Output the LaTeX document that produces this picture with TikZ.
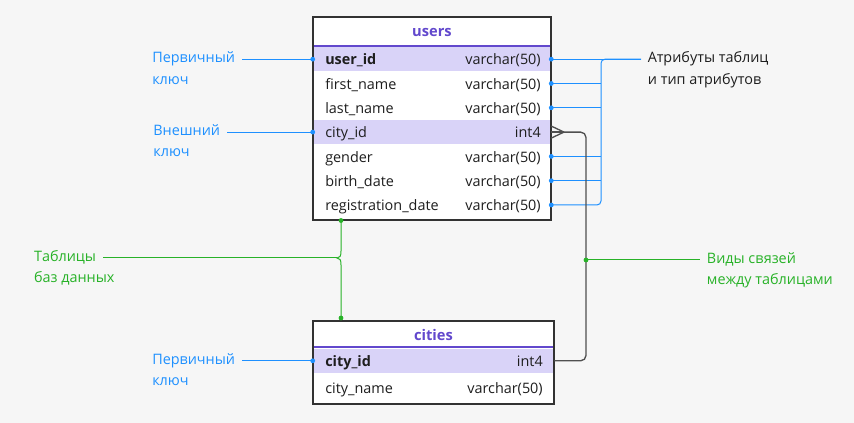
\documentclass[tikz,border=0pt]{standalone}
\usepackage{fontspec}
\setmainfont{Open Sans}
\usetikzlibrary{positioning}

\definecolor{bgcol}{RGB}{246,246,246}
\definecolor{keyfill}{RGB}{217,211,248}
\definecolor{hdrcol}{RGB}{98,72,205}
\definecolor{tblline}{RGB}{50,50,50}
\definecolor{txtcol}{RGB}{30,30,30}
\definecolor{blucol}{RGB}{30,144,255}
\definecolor{grncol}{RGB}{40,178,40}
\definecolor{relcol}{RGB}{80,80,80}

\tikzset{
  row/.style={minimum width=178.5pt, minimum height=18.2pt, inner sep=0pt},
  keyrow/.style={row, fill=keyfill},
  fld/.style={anchor=west, inner sep=0pt, text height=10.3pt, text depth=1.8pt, text=txtcol, font=\fontsize{10.8}{12}\selectfont},
  typ/.style={fld, anchor=east},
  hdr/.style={inner sep=0pt, text height=9.5pt, text depth=2pt, text=hdrcol, font=\fontsize{11}{12}\selectfont\bfseries},
  lab/.style={inner xsep=5pt, inner ysep=0pt, text height=8pt, text depth=3pt, font=\fontsize{10.8}{12}\selectfont},
  lab2/.style={lab, below=4.75pt of #1, anchor=north west},
  bl/.style={color=blucol, line width=0.75pt},
  gr/.style={color=grncol, line width=0.75pt},
  rel/.style={color=relcol, line width=1pt},
  tbl/.style={draw=tblline, line width=0.9pt}
}

\begin{document}
\begin{tikzpicture}[x=0.75pt,y=0.75pt,yscale=-1,xscale=1]
\fill[bgcol] (0,0) rectangle (854,423);

%Table: users
\fill[white] (313,17) rectangle (551,220);
\node[hdr] (users) at (432,31.5) {users};
\node[keyrow] (uid) at (432,59.2) {};
\node[row] (fname) at (432,83.5) {};
\node[row] (lname) at (432,107.8) {};
\node[keyrow] (cid) at (432,132.1) {};
\node[row] (gender) at (432,156.4) {};
\node[row] (bdate) at (432,180.7) {};
\node[row] (reg) at (432,205) {};
\draw[color=hdrcol, line width=1.5pt] (313,45.8) -- (551,45.8);
\draw[tbl] (313,17) rectangle (551,220);

% Text Node
\node[fld] (uidname) at (325,59.2) {\textbf{user\_id}};
\node[typ] (uidtype) at (541,59.2) {varchar(50)};
\node[fld] (fnamename) at (325,83.5) {first\_name};
\node[typ] (fnametype) at (541,83.5) {varchar(50)};
\node[fld] (lnamename) at (325,107.8) {last\_name};
\node[typ] (lnametype) at (541,107.8) {varchar(50)};
\node[fld] (cidname) at (325,132.1) {city\_id};
\node[typ] (cidtype) at (541,132.1) {int4};
\node[fld] (gendername) at (325,156.4) {gender};
\node[typ] (gendertype) at (541,156.4) {varchar(50)};
\node[fld] (bdatename) at (325,180.7) {birth\_date};
\node[typ] (bdatetype) at (541,180.7) {varchar(50)};
\node[fld] (regname) at (325,205) {registration\_date};
\node[typ] (regtype) at (541,205) {varchar(50)};

%Table: cities
\fill[white] (313,321) rectangle (554,404);
\node[hdr] (cities) at (433.5,335.5) {cities};
\node[keyrow, minimum width=180.75pt] (ccid) at (433.5,360.8) {};
\node[row, minimum width=180.75pt] (cname) at (433.5,388) {};
\draw[color=hdrcol, line width=1.5pt] (313,347.5) -- (554,347.5);
\draw[tbl] (313,321) rectangle (554,404);

% Text Node
\node[fld] (ccidname) at (325,360.8) {\textbf{city\_id}};
\node[typ] (ccidtype) at (543,360.8) {int4};
\node[fld] (cnamename) at (325,388) {city\_name};
\node[typ] (cnametype) at (543,388) {varchar(50)};

% Labels
\node[lab, anchor=east, text=blucol] (pkey) at (242,59.2) {Первичный};
\node[lab2=pkey.south west, text=blucol] (pkey2) {ключ};
\node[lab, anchor=east, text=blucol] (fkey) at (227,132.1) {Внешний};
\node[lab2=fkey.south west, text=blucol] (fkey2) {ключ};
\node[lab, anchor=east, text=blucol] (ckey) at (242,360.8) {Первичный};
\node[lab2=ckey.south west, text=blucol] (ckey2) {ключ};
\node[lab, anchor=west, text=txtcol] (attr) at (641,59.2) {Атрибуты таблиц};
\node[lab2=attr.south west, text=txtcol] (attr2) {и тип атрибутов};
\node[lab, anchor=east, text=grncol] (tabs) at (103,258) {Таблицы};
\node[lab2=tabs.south west, text=grncol] (tabs2) {баз данных};
\node[lab, anchor=west, text=grncol] (kinds) at (700,260) {Виды связей};
\node[lab2=kinds.south west, text=grncol] (kinds2) {между таблицами};

% Keys
\draw[bl] (pkey.east) -- (uid.west);
\draw[bl] (fkey.east) -- (cid.west);
\draw[bl] (ckey.east) -- (ccid.west);

% Attributes
\coordinate (bus) at (601,130);
\draw[bl] (uid.east) -- (attr.west);
\draw[bl] (fname.east) -- (fname.east -| bus);
\draw[bl] (lname.east) -- (lname.east -| bus);
\draw[bl] (gender.east) -- (gender.east -| bus);
\draw[bl] (bdate.east) -- (bdate.east -| bus);
\draw[bl, rounded corners=3pt] (reg.east) -| (bus) |- (attr.west);

% Relation
\coordinate (crow) at (564,132.1);
\coordinate (relbus) at (586,260);
\draw[rel] (crow) -- ([yshift=4.5pt]cid.east);
\draw[rel] (crow) -- (cid.east);
\draw[rel] (crow) -- ([yshift=-4.5pt]cid.east);
\draw[rel, rounded corners=4pt] (crow) -| (relbus) |- (ccid.east);
\draw[gr] (relbus) -- (kinds.west);

% Tables
\coordinate (utbot) at (341,220.5);
\coordinate (cttop) at (341,318);
\draw[gr] (utbot) -- (341,251) .. controls (341,256) and (340,258) .. (337,258) .. controls (340,258) and (341,260) .. (341,265) -- (cttop);
\draw[gr] (tabs.east) -- (337,258);

% Dots
\foreach \p in {uid.west, cid.west, ccid.west, uid.east, fname.east, lname.east, gender.east, bdate.east, reg.east}
  \fill[blucol] (\p) circle[radius=1.8pt];
\foreach \p in {utbot, cttop, relbus}
  \fill[grncol] (\p) circle[radius=1.8pt];

\end{tikzpicture}
\end{document}
